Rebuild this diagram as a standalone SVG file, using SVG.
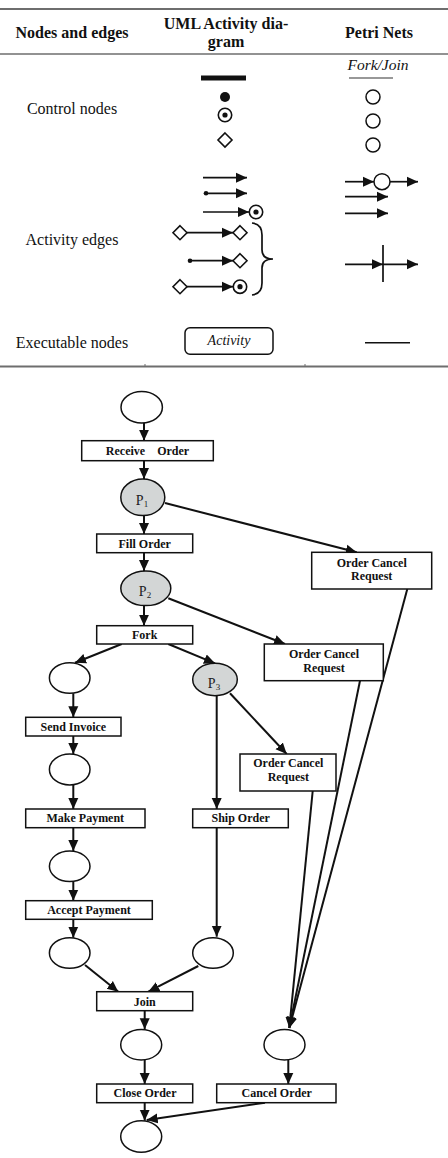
<svg xmlns="http://www.w3.org/2000/svg" width="448" height="1158" viewBox="0 0 448 1158">
<style>
.hdr{font-family:"Liberation Serif",serif;font-weight:bold;font-size:16px;fill:#111;text-anchor:middle}
.lbl{font-family:"Liberation Serif",serif;font-size:16px;fill:#111;text-anchor:middle}
.it{font-family:"Liberation Serif",serif;font-style:italic;font-size:14px;fill:#111;text-anchor:middle}
.bt{font-family:"Liberation Serif",serif;font-weight:bold;font-size:12px;fill:#111;text-anchor:middle}
.pt{font-family:"Liberation Serif",serif;font-size:14px;fill:#222;text-anchor:middle}
.box{fill:#fff;stroke:#111;stroke-width:1.5}
.pl{fill:#fff;stroke:#111;stroke-width:1.5}
.pg{fill:#d3d6d6;stroke:#111;stroke-width:1.5}
.ln{stroke:#111;stroke-width:2;fill:none}
.arr{stroke:#111;stroke-width:2;fill:none;marker-end:url(#ah)}
.tl{stroke:#111;stroke-width:1.7;fill:none}
.ta{stroke:#111;stroke-width:1.7;fill:none;marker-end:url(#th)}
.rule{stroke:#6e6e6e;fill:none}
</style>
<defs>
<marker id="ah" markerUnits="userSpaceOnUse" markerWidth="12" markerHeight="12" viewBox="0 0 12 12" refX="11" refY="6" orient="auto">
<path d="M0,1 L11,6 L0,11 Z" fill="#111"/>
</marker>
<marker id="th" markerUnits="userSpaceOnUse" markerWidth="12" markerHeight="12" viewBox="0 0 12 12" refX="11" refY="6" orient="auto">
<path d="M0,1 L11,6 L0,11 Z" fill="#111"/>
</marker>
</defs>

<g id="table">
<line class="rule" x1="0" y1="9" x2="448" y2="9" stroke-width="2"/>
<line class="rule" x1="0" y1="54" x2="448" y2="54" stroke-width="1.5"/>
<line class="rule" x1="0" y1="366.5" x2="448" y2="366.5" stroke-width="2"/>
<line class="rule" x1="145" y1="364" x2="145" y2="367" stroke-width="1"/>
<line class="rule" x1="305" y1="364" x2="305" y2="367" stroke-width="1"/>
<text class="hdr" x="72" y="38">Nodes and edges</text>
<text class="hdr" x="226" y="29">UML Activity dia-</text>
<text class="hdr" x="226" y="47">gram</text>
<text class="hdr" x="379" y="38">Petri Nets</text>
<text class="lbl" x="72" y="114">Control nodes</text>
<text class="lbl" x="72" y="245">Activity edges</text>
<text class="lbl" x="72" y="348">Executable nodes</text>
</g>

<g id="uml-control">
<rect x="201" y="75.5" width="45" height="5" fill="#111"/>
<circle cx="225" cy="97" r="5" fill="#111"/>
<circle cx="225" cy="115" r="6.7" fill="#fff" stroke="#111" stroke-width="1.6"/>
<circle cx="225" cy="115" r="2.6" fill="#111"/>
<path d="M225,133 L232,140 L225,147 L218,140 Z" fill="#fff" stroke="#111" stroke-width="1.6"/>
</g>

<g id="petri-control">
<text class="it" x="378" y="70" style="font-size:15.5px">Fork/Join</text>
<line x1="349" y1="78" x2="393" y2="78" stroke="#333" stroke-width="1.2"/>
<circle cx="373" cy="97" r="7" fill="#fff" stroke="#111" stroke-width="1.5"/>
<circle cx="373" cy="121" r="7" fill="#fff" stroke="#111" stroke-width="1.5"/>
<circle cx="373" cy="145" r="7" fill="#fff" stroke="#111" stroke-width="1.5"/>
</g>

<g id="uml-edges">
<line class="ta" x1="203" y1="177.7" x2="247" y2="177.7"/>
<circle cx="206" cy="193.3" r="2.3" fill="#111"/>
<line class="ta" x1="206" y1="193.3" x2="247" y2="193.3"/>
<line class="ta" x1="203" y1="212" x2="249" y2="212"/>
<circle cx="256" cy="212" r="6.7" fill="#fff" stroke="#111" stroke-width="1.6"/>
<circle cx="256" cy="212" r="2.6" fill="#111"/>
<path d="M180,225.7 L187,232.7 L180,239.7 L173,232.7 Z" fill="#fff" stroke="#111" stroke-width="1.6"/>
<line class="ta" x1="187" y1="232.7" x2="233" y2="232.7"/>
<path d="M240,225.7 L247,232.7 L240,239.7 L233,232.7 Z" fill="#fff" stroke="#111" stroke-width="1.6"/>
<circle cx="190" cy="260.7" r="2.3" fill="#111"/>
<line class="ta" x1="190" y1="260.7" x2="233" y2="260.7"/>
<path d="M240,253.7 L247,260.7 L240,267.7 L233,260.7 Z" fill="#fff" stroke="#111" stroke-width="1.6"/>
<path d="M180,279.7 L187,286.7 L180,293.7 L173,286.7 Z" fill="#fff" stroke="#111" stroke-width="1.6"/>
<line class="ta" x1="187" y1="286.7" x2="233" y2="286.7"/>
<circle cx="240" cy="286.7" r="6.7" fill="#fff" stroke="#111" stroke-width="1.6"/>
<circle cx="240" cy="286.7" r="2.6" fill="#111"/>
<path class="tl" d="M252,223 Q262,224 262,235 L262,250 Q262,259 273,259 Q262,259 262,268 L262,283 Q262,294 252,295"/>
</g>

<g id="petri-edges">
<line class="ta" x1="345" y1="181.7" x2="374" y2="181.7"/>
<circle cx="382" cy="181.7" r="8" fill="#fff" stroke="#111" stroke-width="1.5"/>
<line class="ta" x1="390" y1="181.7" x2="418" y2="181.7"/>
<line class="ta" x1="345" y1="196.7" x2="388" y2="196.7"/>
<line class="ta" x1="345" y1="213.3" x2="388" y2="213.3"/>
<line class="ta" x1="345" y1="264.3" x2="383" y2="264.3"/>
<line class="tl" x1="383" y1="245" x2="383" y2="282"/>
<line class="ta" x1="383" y1="264.3" x2="418" y2="264.3"/>
</g>

<g id="executable">
<rect x="185" y="327.7" width="88" height="26.6" rx="5" fill="#fff" stroke="#111" stroke-width="1.5"/>
<text class="it" x="229" y="345">Activity</text>
<line x1="365" y1="342.7" x2="410" y2="342.7" stroke="#111" stroke-width="1.5"/>
</g>

<g id="connectors">
<line class="arr" x1="144" y1="423" x2="144" y2="440.7"/>
<line class="arr" x1="144" y1="460.7" x2="144" y2="479"/>
<line class="arr" x1="165" y1="503" x2="356.7" y2="552.3"/>
<line class="arr" x1="144" y1="515.7" x2="144" y2="534"/>
<line class="arr" x1="144" y1="552.7" x2="144" y2="571"/>
<line class="arr" x1="168.3" y1="598.3" x2="285" y2="644"/>
<line class="arr" x1="144" y1="605.7" x2="144" y2="625.7"/>
<line class="arr" x1="121.7" y1="644" x2="75" y2="662.7"/>
<line class="arr" x1="168.3" y1="644" x2="215" y2="663.3"/>
<line class="arr" x1="73.3" y1="693.3" x2="73.3" y2="717.3"/>
<line class="arr" x1="73.3" y1="736" x2="73.3" y2="754"/>
<line class="arr" x1="73.3" y1="785" x2="73.3" y2="809"/>
<line class="arr" x1="73.3" y1="827.7" x2="73.3" y2="851"/>
<line class="arr" x1="73.3" y1="881.7" x2="73.3" y2="900.7"/>
<line class="arr" x1="73.3" y1="919.3" x2="73.3" y2="937.7"/>
<line class="arr" x1="216.7" y1="695.7" x2="216.7" y2="809"/>
<line class="arr" x1="230" y1="693.3" x2="286.7" y2="754"/>
<line class="arr" x1="216.7" y1="827.7" x2="216.7" y2="936.7"/>
<line class="arr" x1="85" y1="965" x2="118.3" y2="991.7"/>
<line class="arr" x1="198.3" y1="966" x2="148.3" y2="991.7"/>
<line class="arr" x1="144.7" y1="1010.7" x2="144.7" y2="1029.3"/>
<line class="arr" x1="144.7" y1="1060" x2="144.7" y2="1084"/>
<line class="arr" x1="144.7" y1="1102.7" x2="144.7" y2="1120.7"/>
<line class="arr" x1="407.3" y1="589" x2="289.3" y2="1028"/>
<line class="arr" x1="360" y1="680.7" x2="289.3" y2="1028"/>
<line class="arr" x1="312.7" y1="791" x2="289.3" y2="1028"/>
<line class="arr" x1="288.3" y1="1060" x2="288.3" y2="1084"/>
<line class="arr" x1="265" y1="1102.7" x2="146.7" y2="1120"/>
</g>

<g id="start"><ellipse class="pl" cx="141.7" cy="407.3" rx="20.7" ry="15.7"/></g>
<g id="receive-order"><rect class="box" x="81.7" y="440.7" width="131.6" height="20"/><text class="bt" x="147.5" y="455" xml:space="preserve">Receive    Order</text></g>
<g id="p1"><ellipse class="pg" cx="142.8" cy="497.3" rx="22" ry="18.3"/><text class="pt" x="142" y="505">P<tspan font-size="9" dy="2">1</tspan></text></g>
<g id="fill-order"><rect class="box" x="96.7" y="534" width="96" height="18.7"/><text class="bt" x="144.7" y="547.5">Fill Order</text></g>
<g id="p2"><ellipse class="pg" cx="145.8" cy="588.3" rx="25" ry="17.3"/><text class="pt" x="145" y="596">P<tspan font-size="9" dy="2">2</tspan></text></g>
<g id="fork"><rect class="box" x="96.7" y="625.7" width="96" height="18.3"/><text class="bt" x="144.7" y="638.5">Fork</text></g>
<g id="ocr1"><rect class="box" x="311.7" y="552.3" width="120" height="36.7"/><text class="bt" x="371.7" y="566.5">Order Cancel</text><text class="bt" x="371.7" y="580">Request</text></g>
<g id="ocr2"><rect class="box" x="264.3" y="644" width="119" height="36.7"/><text class="bt" x="324" y="658">Order Cancel</text><text class="bt" x="324" y="671.5">Request</text></g>
<g id="l1"><ellipse class="pl" cx="69.7" cy="678" rx="20.3" ry="15.3"/></g>
<g id="p3"><ellipse class="pg" cx="215" cy="679.5" rx="22.3" ry="16.2"/><text class="pt" x="214" y="688">P<tspan font-size="9" dy="2">3</tspan></text></g>
<g id="send-invoice"><rect class="box" x="25.7" y="717.3" width="95.3" height="18.7"/><text class="bt" x="73.3" y="730.5">Send Invoice</text></g>
<g id="l2"><ellipse class="pl" cx="69.7" cy="769.5" rx="20.3" ry="15.5"/></g>
<g id="ocr3"><rect class="box" x="240" y="754" width="96" height="37"/><text class="bt" x="288.3" y="767">Order Cancel</text><text class="bt" x="288.3" y="780.5">Request</text></g>
<g id="make-payment"><rect class="box" x="25.7" y="809" width="119.3" height="18.7"/><text class="bt" x="85.3" y="822">Make Payment</text></g>
<g id="ship-order"><rect class="box" x="192.7" y="809" width="95.6" height="18.7"/><text class="bt" x="240.7" y="822">Ship Order</text></g>
<g id="l3"><ellipse class="pl" cx="69.7" cy="866.3" rx="20.3" ry="15.3"/></g>
<g id="accept-payment"><rect class="box" x="25.7" y="900.7" width="126.6" height="18.6"/><text class="bt" x="89" y="914">Accept Payment</text></g>
<g id="l4"><ellipse class="pl" cx="69.7" cy="953" rx="20.3" ry="15.3"/></g>
<g id="r1"><ellipse class="pl" cx="213" cy="953" rx="20.3" ry="15.3"/></g>
<g id="join"><rect class="box" x="96.7" y="991.7" width="96" height="19"/><text class="bt" x="144.7" y="1005.5">Join</text></g>
<g id="e1"><ellipse class="pl" cx="141.2" cy="1044.7" rx="20.5" ry="15.3"/></g>
<g id="cancel-place"><ellipse class="pl" cx="284.5" cy="1044.7" rx="20.5" ry="15.3"/></g>
<g id="close-order"><rect class="box" x="96.7" y="1084" width="96" height="18.7"/><text class="bt" x="145" y="1097">Close Order</text></g>
<g id="cancel-order"><rect class="box" x="216.7" y="1084" width="119.3" height="18.7"/><text class="bt" x="276.7" y="1097">Cancel Order</text></g>
<g id="end"><ellipse class="pl" cx="141.2" cy="1136.5" rx="20.5" ry="15.8"/></g>
</svg>
